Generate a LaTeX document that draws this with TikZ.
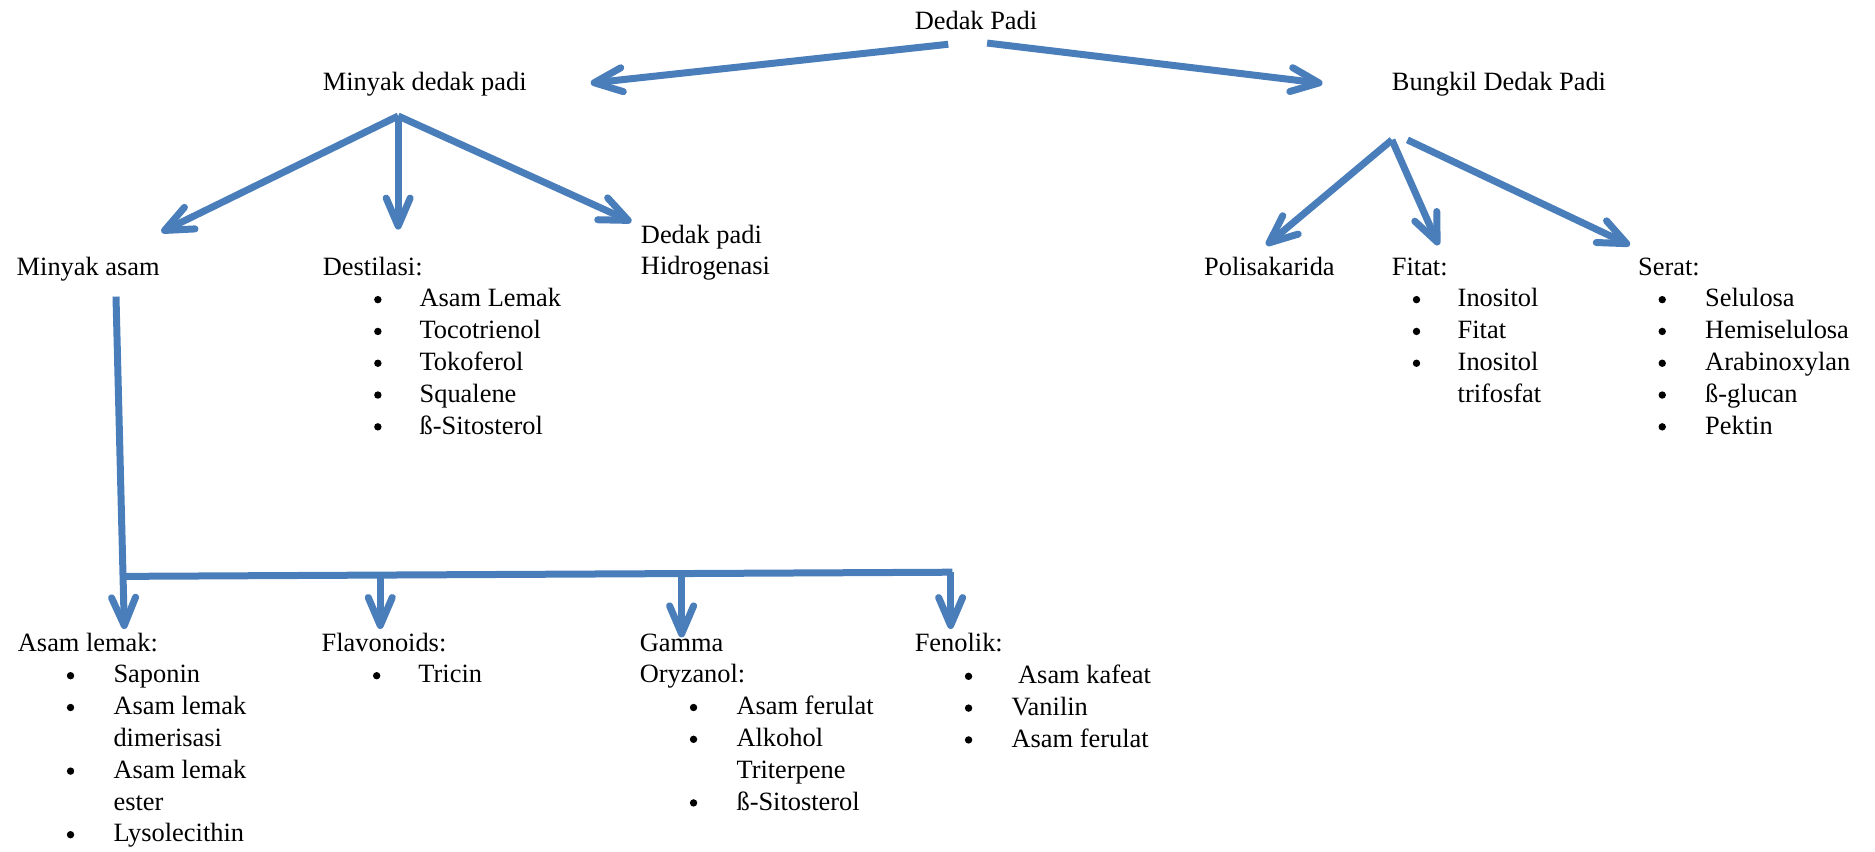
\documentclass[tikz,border=0pt]{standalone}
\usepackage{fontspec}
\setmainfont{Liberation Serif}
\usetikzlibrary{arrows.meta}
\definecolor{arrowblue}{HTML}{4A7EBB}
\newcommand{\dotb}{\tikz[baseline=0pt]\fill[black] (0,3.6pt) circle (1.85pt);}
\newcommand{\bul}[3]{\hspace*{#1}\makebox[0pt]{\dotb}\hspace*{\dimexpr#2-#1\relax}#3}
\newcommand{\cont}[2]{\hspace*{#1}#2}
\begin{document}
\begin{tikzpicture}[x=0.5979pt,y=-0.5979pt,
  txt/.style={anchor=base west,inner sep=0pt,outer sep=0pt,font=\fontsize{13.2}{15.9}\selectfont},
  arr/.style={draw=arrowblue,line width=3.5pt,line cap=butt,-{Straight Barb[length=14pt,width=12pt,round]}},
  ln/.style={draw=arrowblue,line width=3.5pt,line cap=butt}]
\useasboundingbox (0,0) rectangle (1568,711.7);

% nodes
\node[txt] (dp) at (765,24.5) {Dedak Padi};
\node[txt] (mdp) at (270,76) {Minyak dedak padi};
\node[txt] (bdp) at (1164,76) {Bungkil Dedak Padi};
\node[txt] (ma) at (14,230) {Minyak asam};
\node[txt] (des) at (270,230) {\begin{tabular}[t]{@{}l@{}}
Destilasi:\\
\bul{27.5pt}{48.4pt}{Asam Lemak}\\
\bul{27.5pt}{48.4pt}{Tocotrienol}\\
\bul{27.5pt}{48.4pt}{Tokoferol}\\
\bul{27.5pt}{48.4pt}{Squalene}\\
\bul{27.5pt}{48.4pt}{ß-Sitosterol}
\end{tabular}};
\node[txt] (hid) at (536,203.3) {\begin{tabular}[t]{@{}l@{}}Dedak padi\\Hidrogenasi\end{tabular}};
\node[txt] (pol) at (1007,230) {Polisakarida};
\node[txt] (fit) at (1164,230) {\begin{tabular}[t]{@{}l@{}}
Fitat:\\
\bul{12.3pt}{32.9pt}{Inositol}\\
\bul{12.3pt}{32.9pt}{Fitat}\\
\bul{12.3pt}{32.9pt}{Inositol}\\
\cont{32.9pt}{trifosfat}
\end{tabular}};
\node[txt] (ser) at (1370,230) {\begin{tabular}[t]{@{}l@{}}
Serat:\\
\bul{12pt}{33.5pt}{Selulosa}\\
\bul{12pt}{33.5pt}{Hemiselulosa}\\
\bul{12pt}{33.5pt}{Arabinoxylan}\\
\bul{12pt}{33.5pt}{ß-glucan}\\
\bul{12pt}{33.5pt}{Pektin}
\end{tabular}};
\node[txt] (al) at (15,544.5) {\begin{tabular}[t]{@{}l@{}}
Asam lemak:\\
\bul{26.3pt}{47.8pt}{Saponin}\\
\bul{26.3pt}{47.8pt}{Asam lemak}\\
\cont{47.8pt}{dimerisasi}\\
\bul{26.3pt}{47.8pt}{Asam lemak}\\
\cont{47.8pt}{ester}\\
\bul{26.3pt}{47.8pt}{Lysolecithin}
\end{tabular}};
\node[txt] (fl) at (269,544.5) {\begin{tabular}[t]{@{}l@{}}
Flavonoids:\\
\bul{27.5pt}{48.4pt}{Tricin}
\end{tabular}};
\node[txt] (ga) at (535,544.5) {\begin{tabular}[t]{@{}l@{}}
Gamma\\
Oryzanol:\\
\bul{26.9pt}{48.4pt}{Asam ferulat}\\
\bul{26.9pt}{48.4pt}{Alkohol}\\
\cont{48.4pt}{Triterpene}\\
\bul{26.9pt}{48.4pt}{ß-Sitosterol}
\end{tabular}};
\node[txt] (fe) at (765,545) {\begin{tabular}[t]{@{}l@{}}
Fenolik:\\
\bul{26.9pt}{48.4pt}{\ Asam kafeat}\\
\bul{26.9pt}{48.4pt}{Vanilin}\\
\bul{26.9pt}{48.4pt}{Asam ferulat}
\end{tabular}};

% connector end points
\coordinate (dp-l) at (793,37);
\coordinate (dp-r) at (825.5,36);
\coordinate (mdp-in) at (494,69.5);
\coordinate (bdp-in) at (1106,69.7);
\coordinate (mdp-out) at (333,97);
\coordinate (ma-in) at (135,194);
\coordinate (des-in) at (333,192);
\coordinate (hid-in) at (528,185.5);
\coordinate (bdp-out) at (1164,117);
\coordinate (bdp-out2) at (1177,117);
\coordinate (pol-in) at (1059,205);
\coordinate (fit-in) at (1203,205);
\coordinate (ser-in) at (1363,205);
\coordinate (ma-out) at (97,248);
\coordinate (bar-l) at (102.5,482);
\coordinate (bar-r) at (796.5,478.5);
\coordinate (al-in) at (104,526);
\coordinate (fl-top) at (318,481);
\coordinate (fl-in) at (318,526);
\coordinate (ga-top) at (570,480);
\coordinate (ga-in) at (570,533);
\coordinate (fe-top) at (795,478.5);
\coordinate (fe-in) at (795,526);

% connectors
\draw[arr] (dp-l) -- (mdp-in);
\draw[arr] (dp-r) -- (bdp-in);
\draw[arr] (mdp-out) -- (ma-in);
\draw[arr] (mdp-out) -- (des-in);
\draw[arr] (mdp-out) -- (hid-in);
\draw[arr] (bdp-out) -- (pol-in);
\draw[arr] (bdp-out) -- (fit-in);
\draw[arr] (bdp-out2) -- (ser-in);
\draw[arr] (ma-out) -- (al-in);
\draw[ln] (bar-l) -- (bar-r);
\draw[arr] (fl-top) -- (fl-in);
\draw[arr] (ga-top) -- (ga-in);
\draw[arr] (fe-top) -- (fe-in);
\end{tikzpicture}
\end{document}
